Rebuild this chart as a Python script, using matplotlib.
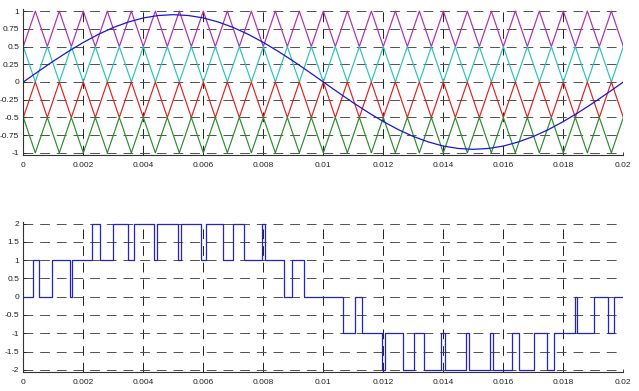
import numpy as np
import matplotlib
matplotlib.use("Agg")
import matplotlib.pyplot as plt

# ---------------- data ----------------
# reference sine (modulating wave), sampled every 0.0005 s
sine_t = [i * 0.0005 for i in range(41)]
sine_v = [0.0, 0.149, 0.294, 0.431, 0.558, 0.672, 0.769, 0.846, 0.904, 0.938,
          0.95, 0.938, 0.904, 0.846, 0.769, 0.672, 0.558, 0.431, 0.294, 0.149,
          0.0, -0.149, -0.294, -0.431, -0.558, -0.672, -0.769, -0.846, -0.904, -0.938,
          -0.95, -0.938, -0.904, -0.846, -0.769, -0.672, -0.558, -0.431, -0.294, -0.149,
          0.0]

# triangular carriers: vertex times and alternating vertex levels
carrier_t = [i * 0.0004 for i in range(51)]
magenta_levels = [0.5, 1.0]
cyan_levels = [0.5, 0.0]
red_levels = [-0.5, 0.0]
green_levels = [-0.5, -1.0]

# multilevel output: switching instants and new levels
step_times = [0.0, 0.000323, 0.000524, 0.000972, 0.001557, 0.001628, 0.002298, 0.002545,
              0.002987, 0.003474, 0.003702, 0.004344, 0.004451, 0.005159, 0.005242,
              0.005928, 0.006084, 0.006659, 0.006983, 0.00736, 0.00796, 0.00804,
              0.008702, 0.008956, 0.009353, 0.010647, 0.011046, 0.011298, 0.01196,
              0.012057, 0.01264, 0.013018, 0.013341, 0.013916, 0.014072, 0.014758,
              0.014841, 0.015549, 0.015656, 0.016298, 0.016525, 0.017013, 0.017455,
              0.017702, 0.018373, 0.018442, 0.019029, 0.019476, 0.019677, 0.02]
step_levels = [0, 1, 0, 1, 0, 1, 2, 1,
               2, 1, 2, 1, 2, 1, 2,
               1, 2, 1, 2, 1, 2, 1,
               0, 1, 0, -1, 0, -1, -2,
               -1, -2, -1, -2, -1, -2, -1,
               -2, -1, -2, -1, -2, -1, -2,
               -1, 0, -1, 0, -1, 0, 0]

top_yticks = [-1, -0.75, -0.5, -0.25, 0, 0.25, 0.5, 0.75, 1]
top_ylabels = ["-1", "-0.75", "-0.5", "-0.25", "0", "0.25", "0.5", "0.75", "1"]
bot_yticks = [-2, -1.5, -1, -0.5, 0, 0.5, 1, 1.5, 2]
bot_ylabels = ["-2", "-1.5", "-1", "-0.5", "0", "0.5", "1", "1.5", "2"]
xticks = [0, 0.002, 0.004, 0.006, 0.008, 0.01, 0.012, 0.014, 0.016, 0.018, 0.02]
xlabels = ["0", "0.002", "0.004", "0.006", "0.008", "0.01", "0.012", "0.014",
           "0.016", "0.018", "0.02"]

# ---------------- figure ----------------
plt.rcParams['lines.scale_dashes'] = False
plt.rcParams['font.family'] = ['Liberation Sans', 'DejaVu Sans']
fig = plt.figure(figsize=(6.39, 3.91), dpi=100)
fig.patch.set_facecolor("white")

ax1 = fig.add_axes([0.0365, 0.6036, 0.939, 0.3734])
ax2 = fig.add_axes([0.0365, 0.0494, 0.939, 0.3836])


def carrier(levels):
    return [levels[i % 2] for i in range(len(carrier_t))]


ax1.plot(carrier_t, carrier(magenta_levels), color="#B02CB0", lw=0.85)
ax1.plot(carrier_t, carrier(cyan_levels), color="#2CC0C0", lw=0.85)
ax1.plot(carrier_t, carrier(red_levels), color="#E02020", lw=0.85)
ax1.plot(carrier_t, carrier(green_levels), color="#2E8B2E", lw=0.85)
ax1.plot(sine_t, sine_v, color="#1818D0", lw=0.9)

ax2.step(step_times, step_levels, where="post", color="#2424C4", lw=0.9)

for ax, yt, yl, lim in [(ax1, top_yticks, top_ylabels, (-1.03, 1.03)),
                        (ax2, bot_yticks, bot_ylabels, (-2.05, 2.05))]:
    ax.set_xlim(0, 0.02)
    ax.set_ylim(*lim)
    ax.set_yticks(yt)
    ax.set_yticklabels(yl)
    ax.set_xticks(xticks)
    ax.set_xticklabels(xlabels)
    ax.tick_params(direction="in", length=2.5, width=0.6, labelsize=6,
                   colors="#222222")
    ax.tick_params(axis="x", pad=5)
    ax.tick_params(axis="y", pad=3)
    ax.spines["top"].set_visible(False)
    ax.spines["right"].set_visible(False)
    ax.spines["left"].set_linewidth(0.8)
    ax.spines["bottom"].set_linewidth(0.8)
    ax.spines["left"].set_color("#333333")
    ax.spines["bottom"].set_color("#333333")
    ax.xaxis.grid(True, color="#202020", lw=0.7, linestyle=(0, (7, 5)))
    ax.yaxis.grid(True, color="#505050", lw=0.7, linestyle=(0, (7, 5)))
    ax.set_axisbelow(True)
    ax.set_facecolor("white")

fig.savefig("out.png", dpi=100, facecolor="white")
